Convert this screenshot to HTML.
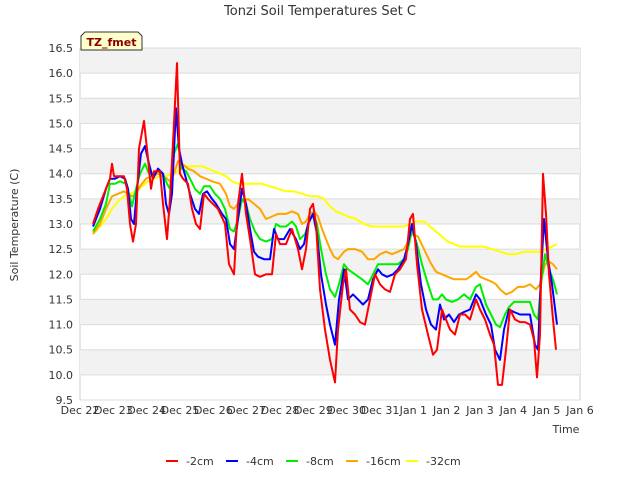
<!DOCTYPE html>
<html><head><meta charset="utf-8"><style>
body{margin:0;background:#fff;font-family:"Liberation Sans","DejaVu Sans",sans-serif}
svg text{font-family:"DejaVu Sans","Liberation Sans",sans-serif}
</style></head><body>
<svg id="c" width="640" height="480" xmlns="http://www.w3.org/2000/svg"></svg>
<script>
const tickLabelsX=["Dec 22","Dec 23","Dec 24","Dec 25","Dec 26","Dec 27","Dec 28","Dec 29","Dec 30","Dec 31","Jan 1","Jan 2","Jan 3","Jan 4","Jan 5","Jan 6"];
const tickValuesY=[9.5,10,10.5,11,11.5,12,12.5,13,13.5,14,14.5,15,15.5,16,16.5];
const seriesNames=["-2cm","-4cm","-8cm","-16cm","-32cm"];
const seriesColors=["#ff0000","#0000ff","#00ee00","#ffa500","#ffff00"];
const t2=[.39,.54,.72,.9,.96,1.02,1.2,1.32,1.41,1.5,1.59,1.68,1.77,1.92,2.04,2.13,2.22,2.4,2.49,2.61,2.7,2.82,2.91,3.0,3.09,3.24,3.36,3.48,3.6,3.72,3.84,3.99,4.14,4.35,4.47,4.62,4.74,4.86,4.98,5.1,5.25,5.4,5.58,5.76,5.88,6.0,6.18,6.36,6.54,6.66,6.78,6.9,6.99,7.08,7.2,7.35,7.5,7.65,7.74,7.89,7.98,8.1,8.25,8.4,8.55,8.7,8.85,9.0,9.15,9.3,9.45,9.6,9.78,9.9,9.99,10.11,10.26,10.44,10.59,10.71,10.86,10.98,11.1,11.25,11.4,11.55,11.7,11.88,12.0,12.15,12.3,12.42,12.54,12.66,12.78,12.9,13.05,13.2,13.35,13.5,13.62,13.71,13.8,13.89,13.98,14.07,14.19,14.28];
const v2=[13.0,13.3,13.6,13.9,14.2,13.95,13.95,13.95,13.7,13.0,12.65,13.0,14.5,15.05,14.3,13.7,14.05,14.05,13.4,12.7,13.5,15.0,16.2,14.0,13.9,13.8,13.3,13.0,12.9,13.6,13.5,13.4,13.3,13.0,12.2,12.0,13.4,14.0,13.2,12.7,12.0,11.95,12.0,12.0,12.8,12.6,12.6,12.9,12.5,12.1,12.5,13.3,13.4,13.0,11.7,10.9,10.3,9.85,10.9,11.8,12.1,11.3,11.2,11.05,11.0,11.5,12.0,11.8,11.7,11.65,12.0,12.1,12.3,13.1,13.2,12.2,11.3,10.8,10.4,10.5,11.3,11.1,10.9,10.8,11.2,11.2,11.1,11.5,11.3,11.1,10.8,10.6,9.8,9.8,10.5,11.3,11.1,11.05,11.05,11.0,10.7,9.95,10.8,14.0,13.2,12.0,11.1,10.5];
const t4=[.39,.6,.78,.9,1.05,1.2,1.35,1.44,1.53,1.62,1.71,1.83,1.95,2.07,2.19,2.34,2.49,2.58,2.67,2.76,2.88,2.97,3.06,3.18,3.3,3.45,3.57,3.69,3.81,3.96,4.08,4.26,4.38,4.5,4.62,4.74,4.86,4.98,5.1,5.22,5.34,5.52,5.7,5.82,5.94,6.12,6.3,6.48,6.6,6.72,6.84,6.99,7.11,7.23,7.38,7.5,7.65,7.77,7.92,8.04,8.19,8.34,8.49,8.64,8.79,8.94,9.06,9.21,9.39,9.54,9.72,9.84,9.96,10.08,10.23,10.38,10.53,10.68,10.8,10.92,11.07,11.22,11.37,11.52,11.7,11.88,12.0,12.18,12.33,12.45,12.6,12.72,12.87,13.02,13.2,13.38,13.5,13.65,13.74,13.83,13.92,14.04,14.16,14.31];
const v4=[12.95,13.3,13.7,13.9,13.9,13.95,13.9,13.7,13.1,13.0,13.7,14.4,14.55,14.2,13.9,14.1,14.0,13.4,13.2,13.6,15.3,14.5,14.2,13.9,13.6,13.3,13.2,13.6,13.65,13.5,13.4,13.2,13.1,12.6,12.5,13.1,13.7,13.4,12.9,12.45,12.35,12.3,12.3,12.9,12.7,12.7,12.9,12.7,12.5,12.6,13.0,13.2,12.8,12.0,11.4,11.0,10.6,11.5,12.1,11.5,11.6,11.5,11.4,11.5,11.9,12.1,12.0,11.95,12.0,12.1,12.3,12.6,13.0,12.6,11.8,11.3,11.0,10.9,11.4,11.1,11.2,11.05,11.2,11.25,11.3,11.6,11.5,11.2,11.0,10.5,10.3,10.9,11.3,11.25,11.2,11.2,11.2,10.6,10.5,12.0,13.1,12.3,11.8,11.0];
const t8=[.39,.6,.78,.9,1.05,1.2,1.38,1.47,1.56,1.68,1.8,1.95,2.07,2.19,2.34,2.49,2.61,2.7,2.82,2.94,3.06,3.18,3.3,3.45,3.6,3.72,3.9,4.05,4.2,4.35,4.5,4.62,4.74,4.86,4.98,5.1,5.25,5.4,5.58,5.76,5.88,6.0,6.18,6.36,6.48,6.6,6.75,6.9,6.99,7.11,7.23,7.38,7.5,7.65,7.77,7.92,8.04,8.25,8.46,8.64,8.79,8.94,9.06,9.21,9.39,9.54,9.72,9.84,9.96,10.11,10.26,10.44,10.59,10.74,10.86,10.98,11.16,11.34,11.52,11.7,11.88,12.0,12.18,12.33,12.48,12.6,12.75,12.87,13.02,13.2,13.38,13.5,13.62,13.74,13.83,13.95,14.07,14.19,14.31];
const v8=[12.85,13.1,13.4,13.8,13.8,13.85,13.8,13.6,13.35,13.7,14.0,14.2,14.0,14.0,14.05,14.0,13.8,13.7,14.4,14.6,14.1,14.05,13.9,13.7,13.6,13.75,13.75,13.6,13.5,13.3,12.9,12.85,13.1,13.5,13.4,13.1,12.85,12.7,12.65,12.7,13.0,12.95,12.95,13.05,12.95,12.7,12.8,13.1,13.2,13.0,12.5,12.0,11.7,11.55,11.8,12.2,12.1,12.0,11.9,11.8,12.0,12.2,12.2,12.2,12.2,12.2,12.3,12.5,12.9,12.6,12.2,11.8,11.5,11.5,11.6,11.5,11.45,11.5,11.6,11.5,11.75,11.8,11.4,11.2,11.0,10.95,11.2,11.35,11.45,11.45,11.45,11.45,11.2,11.1,11.8,12.4,12.1,11.9,11.6];
const t16=[.39,.6,.78,.96,1.14,1.32,1.44,1.56,1.68,1.8,1.98,2.16,2.34,2.49,2.61,2.7,2.82,2.94,3.06,3.24,3.42,3.6,3.78,3.96,4.2,4.38,4.5,4.62,4.74,4.86,5.04,5.22,5.4,5.58,5.76,5.94,6.18,6.36,6.54,6.66,6.78,6.9,7.02,7.14,7.26,7.38,7.5,7.62,7.74,7.92,8.04,8.25,8.46,8.64,8.82,9.0,9.18,9.36,9.54,9.72,9.84,9.96,10.14,10.32,10.5,10.68,10.86,11.04,11.22,11.4,11.58,11.7,11.88,12.0,12.18,12.36,12.48,12.6,12.78,12.96,13.14,13.32,13.5,13.68,13.8,13.95,14.07,14.19,14.31];
const v16=[12.8,13.0,13.3,13.55,13.6,13.65,13.6,13.55,13.6,13.75,13.9,13.95,14.0,13.95,13.9,13.85,14.0,14.25,14.2,14.1,14.05,13.95,13.9,13.85,13.8,13.6,13.35,13.3,13.4,13.45,13.5,13.4,13.3,13.1,13.15,13.2,13.2,13.25,13.2,13.0,13.05,13.2,13.25,13.15,12.9,12.7,12.5,12.35,12.3,12.45,12.5,12.5,12.45,12.3,12.3,12.4,12.45,12.4,12.45,12.5,12.65,12.8,12.75,12.5,12.25,12.05,12.0,11.95,11.9,11.9,11.9,11.95,12.05,11.95,11.9,11.85,11.8,11.7,11.6,11.65,11.75,11.75,11.8,11.7,11.8,12.2,12.25,12.2,12.1];
const t32=[.39,.6,.78,.96,1.14,1.32,1.5,1.68,1.86,2.04,2.22,2.4,2.58,2.76,2.94,3.12,3.3,3.48,3.66,3.84,4.02,4.2,4.38,4.56,4.74,4.98,5.22,5.46,5.7,5.94,6.18,6.42,6.66,6.9,7.14,7.32,7.5,7.68,7.86,8.04,8.28,8.52,8.76,9.0,9.24,9.48,9.72,9.9,10.08,10.32,10.5,10.68,10.86,11.04,11.22,11.4,11.64,11.88,12.12,12.36,12.6,12.84,13.08,13.32,13.56,13.8,13.98,14.16,14.31];
const v32=[12.8,12.95,13.1,13.3,13.45,13.55,13.6,13.65,13.75,13.85,13.9,13.95,13.95,14.0,14.05,14.15,14.15,14.15,14.15,14.1,14.05,14.0,13.95,13.85,13.8,13.8,13.8,13.8,13.75,13.7,13.65,13.65,13.6,13.55,13.55,13.5,13.35,13.25,13.2,13.15,13.1,13.0,12.95,12.95,12.95,12.95,12.95,13.0,13.05,13.05,12.95,12.85,12.75,12.65,12.6,12.55,12.55,12.55,12.55,12.5,12.45,12.4,12.4,12.45,12.45,12.45,12.5,12.55,12.6];
const seriesT=[t2,t4,t8,t16,t32], seriesV=[v2,v4,v8,v16,v32];

const NS="http://www.w3.org/2000/svg", svg=document.getElementById('c');
const L=80,R=580,T=48,B=400,ymin=9.5,ymax=16.5;
const xs=d=>L+(R-L)*d/15, ys=v=>B-(B-T)*(v-ymin)/(ymax-ymin);
function mk(tag,a,txt){const e=document.createElementNS(NS,tag);for(const k in a)e.setAttribute(k,a[k]);if(txt!=null)e.textContent=txt;svg.appendChild(e);return e;}
let e;
e=mk('text',{x:320,y:15,'text-anchor':'middle','font-size':13,fill:'#333'},'Tonzi Soil Temperatures Set C');


e=mk('rect',{x:L,y:T,width:R-L,height:B-T,fill:'#fff',stroke:'#ccc'});


for(let v=10;v<16.5;v+=1){
 e=mk('rect',{x:L,y:ys(v+0.5),width:R-L,height:ys(v)-ys(v+0.5),fill:'#f2f2f2'});
 
 
}
tickValuesY.forEach(v=>{
 e=mk('line',{x1:L,x2:R,y1:ys(v),y2:ys(v),stroke:'#dcdcdc'});
 
 
 e=mk('text',{x:73,y:ys(v)+4,'text-anchor':'end','font-size':11,fill:'#333'},v.toFixed(1));
 
 
});
tickLabelsX.forEach((s,i)=>{
 e=mk('text',{x:xs(i),y:414,'text-anchor':'middle','font-size':11,fill:'#333'},s);
 
 
});
e=mk('text',{x:566,y:433,'text-anchor':'middle','font-size':11,fill:'#333'},'Time');


e=mk('text',{x:18,y:225,'text-anchor':'middle','font-size':11,fill:'#333',transform:'rotate(-90 18 225)'},'Soil Temperature (C)');


seriesT.forEach((ts,i)=>{
 const pts=ts.map((t,j)=>xs(t).toFixed(1)+','+ys(seriesV[i][j]).toFixed(1)).join(' ');
 e=mk('polyline',{points:pts,fill:'none',stroke:seriesColors[i],'stroke-width':2,'stroke-linejoin':'round'});
 
 
});
// draw order: 32 under? keep red on top by redrawing order reversed
const lines=[...svg.querySelectorAll('polyline')];
lines.reverse().forEach(l=>svg.appendChild(l));
seriesNames.forEach((n,i)=>{
 const x0=166+i*60;
 e=mk('line',{x1:x0,x2:x0+12,y1:461,y2:461,stroke:seriesColors[i],'stroke-width':2});
 
 
 e=mk('text',{x:x0+20,y:465,'font-size':11,fill:'#333'},n);
 
 
});
e=mk('path',{d:'M81,50 L81,36 L85,32 L138,32 L142,36 L142,50 Z',fill:'#ffffcc',stroke:'#333'});


e=mk('text',{x:111.5,y:46,'text-anchor':'middle','font-size':11,'font-weight':'bold',fill:'#8b0000'},'TZ_fmet');


</script>
</body></html>
